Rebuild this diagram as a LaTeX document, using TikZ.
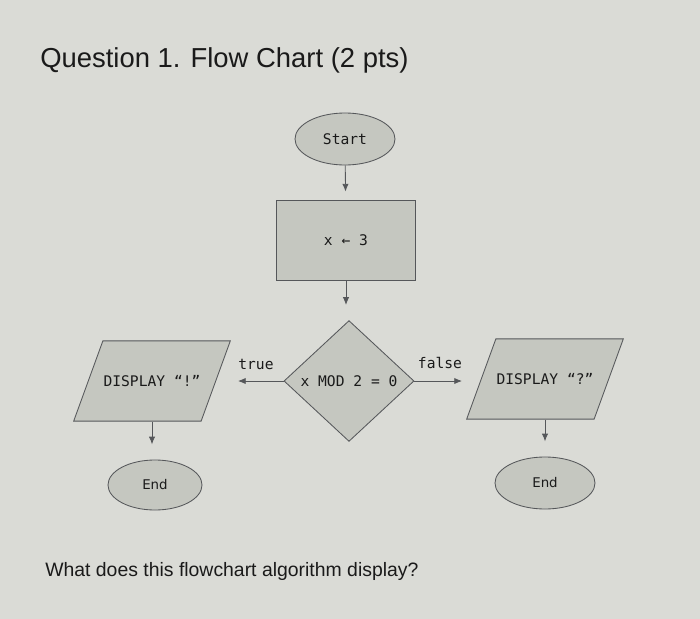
\documentclass[tikz,border=0pt]{standalone}
\usepackage{fontspec}
\setmainfont{Liberation Sans}
\newfontfamily\codefont{DejaVu Sans Mono}
\newfontfamily\endfont{DejaVu Sans}
\usetikzlibrary{shapes.geometric,arrows.meta}

\definecolor{screenbg}{HTML}{DADBD6}
\definecolor{boxfill}{HTML}{C5C7C0}
\definecolor{edgegray}{HTML}{55575A}
\definecolor{inkgray}{HTML}{1A1A1A}

\begin{document}
\begin{tikzpicture}[x=0.025cm, y=-0.025cm, >={Latex[length=5.5pt,width=4.5pt]},
    shapebox/.style={draw=edgegray, fill=boxfill, text=inkgray, line width=0.6pt,
        font=\codefont\fontsize{10.4}{12}\selectfont},
    terminal/.style={shapebox, ellipse, inner sep=0pt},
    process/.style={shapebox, rectangle, minimum width=3.475cm, minimum height=2cm},
    decision/.style={shapebox, diamond, inner sep=0pt, minimum width=3.25cm, minimum height=3.02cm},
    iobox/.style={shapebox, trapezium, trapezium left angle=70, trapezium right angle=110,
        inner xsep=0.5pt, inner ysep=24.5pt},
    flow/.style={->, draw=edgegray, line width=0.6pt},
    branch/.style={font=\codefont\fontsize{10.4}{12}\selectfont, text=inkgray}]

    % Screen background and frame
    \fill[screenbg] (0,0) rectangle (700,619);
    \useasboundingbox (0,0) rectangle (700,619);

    % Question text
    \node[anchor=base west, inner sep=0pt, text=inkgray, font=\fontsize{19.5}{22}\selectfont]
        (title) at (40,67) {Question 1. Flow Chart (2 pts)};
    \node[anchor=base west, inner sep=0pt, text=inkgray, font=\fontsize{13.8}{16}\selectfont]
        (ask) at (45,576) {What does this flowchart algorithm display?};

    % Flow chart shapes
    \node[terminal, minimum width=2.5cm, minimum height=1.3cm] (start) at (345,139) {Start};
    \node[process] (assign) at (346,240) {x ← 3};
    \node[decision] (test) at (349,381) {x MOD 2 = 0};
    \node[iobox] (showL) at (152,381) {DISPLAY “!”};
    \node[iobox] (showR) at (545,379) {DISPLAY “?”};
    \node[terminal, minimum width=2.35cm, minimum height=1.25cm,
        font=\endfont\fontsize{9.5}{11}\selectfont] (endL) at (155,485) {End};
    \node[terminal, minimum width=2.5cm, minimum height=1.3cm,
        font=\endfont\fontsize{9.5}{11}\selectfont] (endR) at (545,483) {End};

    % Loose ends of the branch arrows
    \coordinate (trueEnd) at (238,381);
    \coordinate (falseEnd) at (462,381);

    % Connectors
    \draw[flow, shorten >=0.2cm] (start) -- (assign);
    \draw[flow, shorten >=0.38cm] (assign.south) -- (assign.south |- test.north);
    \draw[flow] (test.west) -- (trueEnd);
    \draw[flow] (test.east) -- (falseEnd);
    \draw[flow, shorten >=0.38cm] (showL.south) -- (showL.south |- endL.north);
    \draw[flow, shorten >=0.38cm] (showR.south) -- (showR.south |- endR.north);

    % Branch labels
    \node[branch] (trueTxt) at (256,364) {true};
    \node[branch] (falseTxt) at (440,363) {false};
\end{tikzpicture}
\end{document}
